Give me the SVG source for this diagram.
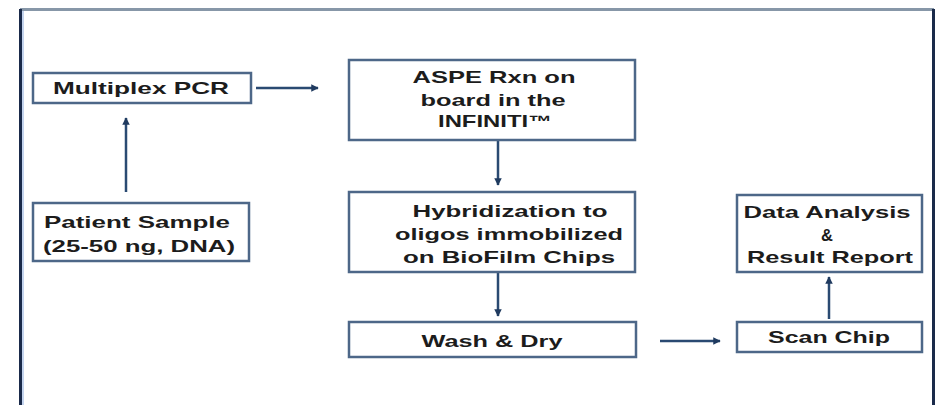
<svg xmlns="http://www.w3.org/2000/svg" width="943" height="405" viewBox="0 0 943 405">
<defs>
<style>
.box{fill:#ffffff;stroke:#4d6788;stroke-width:2.5}
.t{font-family:"Liberation Sans",Arial,sans-serif;font-weight:bold;font-size:16.5px;fill:#1c1c1c;text-anchor:middle}
.c{stroke:#2a4a72;stroke-width:2.5;fill:none}
</style>
<marker id="ah" viewBox="0 0 10 10" refX="9" refY="5" markerWidth="3" markerHeight="3" orient="auto">
<path d="M0,0 L10,5 L0,10 z" fill="#1f3a5f"/>
</marker>
</defs>
<rect width="943" height="405" fill="#ffffff"/>
<g id="frame">
<line x1="20" y1="9.5" x2="934" y2="9.5" stroke="#8797a8" stroke-width="3"/>
<line x1="20.5" y1="9" x2="20.5" y2="405" stroke="#1a2a4a" stroke-width="3"/>
<line x1="23" y1="11" x2="23" y2="405" stroke="#c4d4ee" stroke-width="2"/>
<line x1="933.5" y1="9" x2="933.5" y2="405" stroke="#1a2a4a" stroke-width="3"/>
</g>
<g id="connectors">
<line class="c" x1="126" y1="192" x2="126" y2="118" marker-end="url(#ah)"/>
<line class="c" x1="256" y1="88" x2="318" y2="88" marker-end="url(#ah)"/>
<line class="c" x1="498" y1="141" x2="498" y2="185" marker-end="url(#ah)"/>
<line class="c" x1="498" y1="273" x2="498" y2="316" marker-end="url(#ah)"/>
<line class="c" x1="660" y1="341" x2="720" y2="341" stroke="#5a7a9e" marker-end="url(#ah)"/>
<line class="c" x1="829" y1="319" x2="829" y2="277" marker-end="url(#ah)"/>
</g>
<g id="multiplex">
<rect class="box" x="33" y="73" width="218" height="30"/>
<text class="t" x="141" y="94" textLength="176" lengthAdjust="spacingAndGlyphs">Multiplex PCR</text>
</g>
<g id="patient">
<rect class="box" x="33" y="203" width="216" height="58"/>
<text class="t" x="137" y="228" textLength="186" lengthAdjust="spacingAndGlyphs">Patient Sample</text>
<text class="t" x="139" y="252" textLength="192" lengthAdjust="spacingAndGlyphs">(25-50 ng, DNA)</text>
</g>
<g id="aspe">
<rect class="box" x="349" y="60" width="286" height="80"/>
<text class="t" x="494" y="83" textLength="163" lengthAdjust="spacingAndGlyphs">ASPE Rxn on</text>
<text class="t" x="493" y="106" textLength="145" lengthAdjust="spacingAndGlyphs">board in the</text>
<text class="t" x="495" y="127" textLength="114" lengthAdjust="spacingAndGlyphs">INFINITI™</text>
</g>
<g id="hybridization">
<rect class="box" x="349" y="192" width="286" height="80"/>
<text class="t" x="510" y="217" textLength="195" lengthAdjust="spacingAndGlyphs">Hybridization to</text>
<text class="t" x="509" y="240" textLength="228" lengthAdjust="spacingAndGlyphs">oligos immobilized</text>
<text class="t" x="509" y="263" textLength="212" lengthAdjust="spacingAndGlyphs">on BioFilm Chips</text>
</g>
<g id="wash">
<rect class="box" x="349" y="322" width="287" height="35"/>
<text class="t" x="492" y="347" textLength="141" lengthAdjust="spacingAndGlyphs">Wash &amp; Dry</text>
</g>
<g id="data">
<rect class="box" x="737" y="195" width="185" height="77"/>
<text class="t" x="827" y="218" textLength="167" lengthAdjust="spacingAndGlyphs">Data Analysis</text>
<text class="t" x="827" y="241">&amp;</text>
<text class="t" x="830" y="263" textLength="166" lengthAdjust="spacingAndGlyphs">Result Report</text>
</g>
<g id="scan">
<rect class="box" x="737" y="322" width="185" height="30"/>
<text class="t" x="829" y="343" textLength="122" lengthAdjust="spacingAndGlyphs">Scan Chip</text>
</g>
</svg>
